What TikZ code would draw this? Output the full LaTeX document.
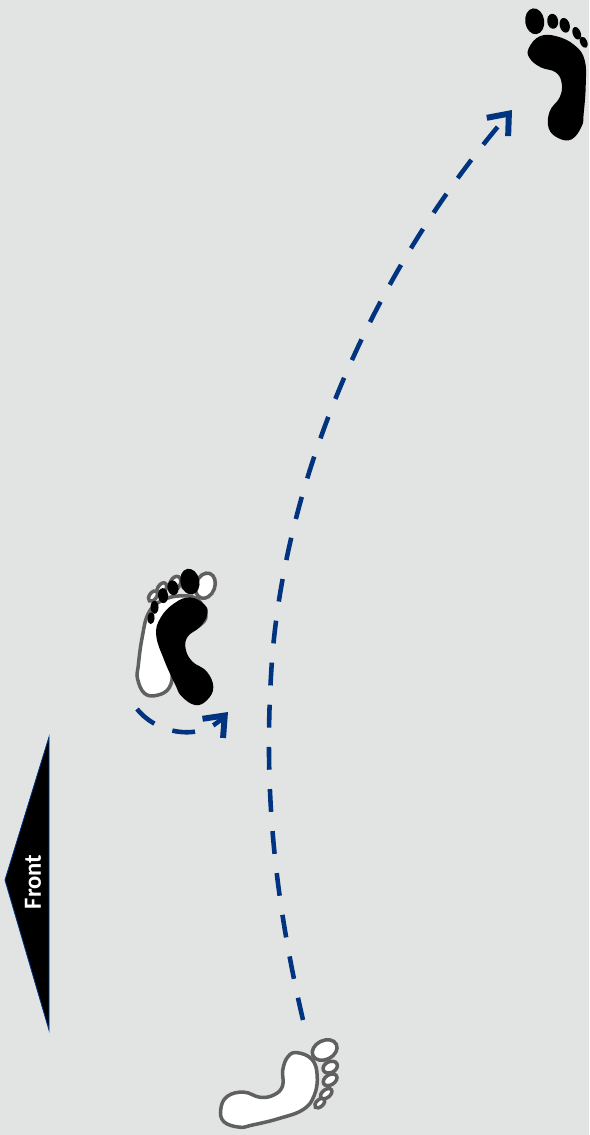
\documentclass[tikz,border=0pt]{standalone}
\usepackage{fontspec}
\setsansfont{Carlito}
\usetikzlibrary{arrows.meta}
\definecolor{bggrey}{RGB}{226,228,227}
\definecolor{footgrey}{RGB}{96,96,96}
\definecolor{stepblue}{RGB}{0,51,128}
\tikzset{
  footprint/.pic={
    \path[pic actions] plot[smooth cycle,tension=.7] coordinates {(-28,-25) (-17,-37) (0,-37) (18,-28) (28,-13) (29,13) (27,40) (25,53) (15,66) (2,65) (-8,55) (-7,38) (3,24) (5,10) (-1,-1) (-16,-6) (-27,-15)};
    \path[pic actions] (-22,-52) ellipse [x radius=9.5,y radius=13,rotate=8];
    \path[pic actions] (-4,-52) ellipse [x radius=5.5,y radius=7.5,rotate=8];
    \path[pic actions] (8,-48) ellipse [x radius=5,y radius=7.5,rotate=15];
    \path[pic actions] (20,-40) ellipse [x radius=4,y radius=6.5,rotate=20];
    \path[pic actions] (27,-31) ellipse [x radius=3.5,y radius=6,rotate=25];
  },
  whitefoot/.style={draw=footgrey,fill=white,line width=2pt},
  blackfoot/.style={fill=black},
  stepline/.style={draw=stepblue,line width=2.6pt,dash pattern=on 13pt off 11pt,
    -{Straight Barb[length=10pt,width=16pt,line width=3.4pt]}},
}
\begin{document}
\begin{tikzpicture}[x=0.02cm,y=-0.02cm]
\fill[bggrey] (0,0) rectangle (589,1135);
\useasboundingbox (0,0) rectangle (589,1135);
% front marker
\fill[black,draw=stepblue,line width=0.5pt] (49,737) -- (5,880) -- (49,1030) -- cycle;
\node[rotate=90,text=white,font=\fontsize{14}{16}\sffamily\bfseries,inner sep=0pt] (front) at (33,882) {Front};
% feet
\pic[blackfoot] (finalfoot) at (556.7,73.3) {footprint};
\pic[whitefoot,rotate=-72] (startfoot) at (282,1087) {footprint};
\pic[whitefoot,xscale=-1,rotate=12] (turnwhite) at (173,632) {footprint};
\pic[blackfoot,xscale=-1,rotate=-20] (turnblack) at (187,638) {footprint};
% paths
\coordinate (longstart) at (303,1020);
\coordinate (longmid) at (272,660);
\coordinate (longend) at (512,110);
\coordinate (shortstart) at (137,709);
\coordinate (shortend) at (228,712);
\path[stepline] (longstart) .. controls (268,870) and (265,760) .. (longmid)
  .. controls (285,490) and (362,285) .. (longend);
\path[stepline] (shortstart) .. controls (158,735) and (201,741) .. (shortend);
\end{tikzpicture}
\end{document}
